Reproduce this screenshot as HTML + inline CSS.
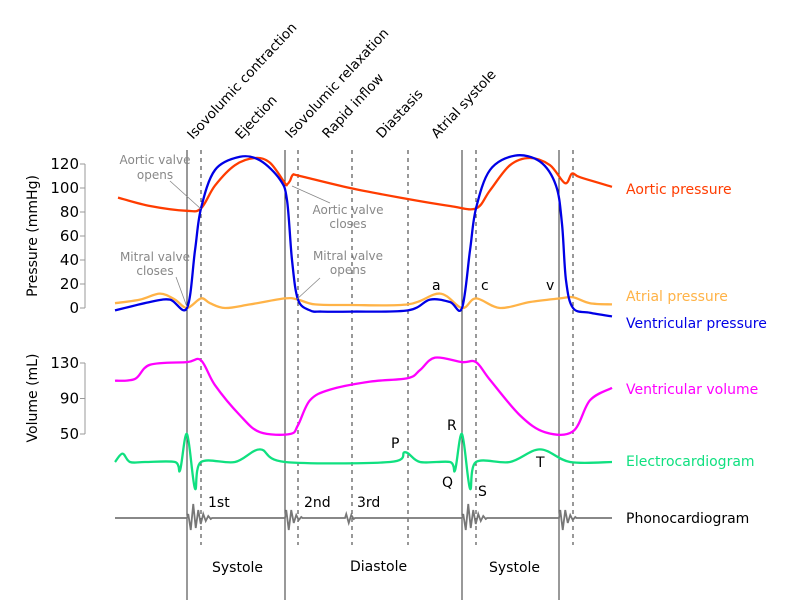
<!DOCTYPE html>
<html><head><meta charset="utf-8"><style>
body{margin:0;background:#fff}
svg{display:block;font-family:"DejaVu Sans","Liberation Sans",sans-serif}
</style></head><body>
<svg id="c" width="800" height="613" viewBox="0 0 800 613">
<g id="grid"></g>
<g id="axes"></g>
<g id="series"></g>
<g id="labels"></g>
</svg>
<script>
// time in ms-like units; x = 115 + t*0.5
const aorticT=[6,70,144,172,200,240,280,310,340,344,350,356,370,470,570,670,722,750,790,830,870,900,914,930,994];
const aorticV=[92,85,81,83,102,119,125,121,104,103,106,111,110,100,92,85,83,98,119,125,119,104,112,109,101];
const ventT=[0,70,110,144,160,172,200,250,290,330,344,354,366,390,414,474,586,630,670,694,710,722,750,800,850,882,894,902,916,950,994];
const ventV=[-2,5,7,0,48,83,115,126,123,107,90,40,7,-2,-3,-3,-2,7,5,0,48,83,115,127,122,102,70,23,0,-4,-7];
const atrT=[0,50,90,120,144,172,190,220,270,340,366,400,470,586,650,694,722,770,830,890,916,950,994];
const atrV=[4,7,12,7,0,8,4,0,3,8,7,3,2.5,3,12,0,8,0,5,8,9,4,3];
const volT=[0,40,70,144,172,200,250,290,350,366,390,430,510,586,610,640,694,722,750,810,860,916,950,994];
const volV=[110,112,128,131,133,105,71,52,50,60,88,100,109,113,122,136,131,131,111,71,52,53,88,102];
const ecgT=[0,15,30,60,120,130,144,160,172,240,290,340,550,580,610,670,680,694,710,722,790,850,910,994];
const ecgV=[0,.3,0,0,0,-.3,1,-.95,0,0,.45,0,0,.35,0,0,-.3,1,-.95,0,0,.45,0,0];
const phonoStart=[144,340,460,694,888];
const phonoAmp=[[4,12,14,10,8,6,4,3,2,1],[8,12,8,5,3,2,1],[4,5,3,1],[4,12,14,10,8,6,4,3,2,1],[8,12,8,5,3,2,1]];
const pTicks=[0,20,40,60,80,100,120];
const vTicks=[50,90,130];
const solidT=[144,340,694,888];
const dashT=[172,366,474,586,722,916];

const NS="http://www.w3.org/2000/svg";
const X=t=>115+t*0.5;
const YP=v=>308-v*1.2;
const YV=v=>434-(v-50)*0.8875;
const YE=v=>462-v*28;
function mk(tag,attrs,parent,txt){const e=document.createElementNS(NS,tag);for(const k in attrs)e.setAttribute(k,attrs[k]);if(txt!==undefined)e.textContent=txt;parent.appendChild(e);return e;}
function smooth(pts){let d=`M${pts[0][0]},${pts[0][1]}`;for(let i=0;i<pts.length-1;i++){const p0=pts[i-1]||pts[i],p1=pts[i],p2=pts[i+1],p3=pts[i+2]||p2;const k=1/6;d+=` C${p1[0]+(p2[0]-p0[0])*k},${p1[1]+(p2[1]-p0[1])*k} ${p2[0]-(p3[0]-p1[0])*k},${p2[1]-(p3[1]-p1[1])*k} ${p2[0]},${p2[1]}`;}return d;}
const grid=document.getElementById('grid'),axes=document.getElementById('axes'),ser=document.getElementById('series'),lab=document.getElementById('labels');

solidT.forEach(t=>{const l=mk('line',{x1:X(t),x2:X(t),y1:150,y2:600,stroke:'#333','stroke-width':1},grid);

});
dashT.forEach(t=>{const l=mk('line',{x1:X(t),x2:X(t),y1:150,y2:545,stroke:'#555','stroke-width':1.2,'stroke-dasharray':'4,4'},grid);

});

mk('line',{x1:85,x2:85,y1:YP(120),y2:YP(0),stroke:'#999'},axes);
pTicks.forEach(v=>{mk('line',{x1:80,x2:85,y1:YP(v),y2:YP(v),stroke:'#999'},axes);
const t=mk('text',{x:79,y:YP(v)+5,'text-anchor':'end','font-size':15,fill:'#000'},axes,String(v));

});
mk('line',{x1:85,x2:85,y1:YV(130),y2:YV(50),stroke:'#999'},axes);
vTicks.forEach(v=>{mk('line',{x1:80,x2:85,y1:YV(v),y2:YV(v),stroke:'#999'},axes);
const t=mk('text',{x:79,y:YV(v)+5,'text-anchor':'end','font-size':15,fill:'#000'},axes,String(v));

});
let yt=mk('text',{x:0,y:0,transform:'translate(37,236) rotate(-90)','text-anchor':'middle','font-size':14},axes,'Pressure (mmHg)');

yt=mk('text',{x:0,y:0,transform:'translate(37,398) rotate(-90)','text-anchor':'middle','font-size':14},axes,'Volume (mL)');


function line(T,V,Y,color,name){const pts=T.map((t,i)=>[X(t),Y(V[i])]);const p=mk('path',{d:smooth(pts),fill:'none',stroke:color,'stroke-width':2.3,'stroke-linejoin':'round'},ser);

}
line(atrT,atrV,YP,'#ffb347','atrial-pressure-line');
line(aorticT,aorticV,YP,'#ff3c00','aortic-pressure-line');
line(ventT,ventV,YP,'#0000e6','ventricular-pressure-line');
line(volT,volV,YV,'#ff00ff','ventricular-volume-line');
line(ecgT,ecgV,YE,'#10e080','ecg-line');

let d=`M${X(0)},518`;
phonoStart.forEach((s,b)=>{d+=` L${X(s)},518`;phonoAmp[b].forEach((a,i)=>{const x=X(s)+i*2.5+1.25;d+=` L${x},${518+(i%2?a:-a)}`;});d+=` L${X(s)+phonoAmp[b].length*2.5},518`;});
d+=` L${X(994)},518`;
const ph=mk('path',{d:d,fill:'none',stroke:'#777','stroke-width':1.8},ser);



function txt(x,y,s,o,name){const a=Object.assign({x:x,y:y,'font-size':14,fill:'#000'},o||{});const t=mk('text',a,lab,s);

return t;}
txt(626,194,'Aortic pressure',{fill:'#ff3c00'},'legend-aortic-pressure');
txt(626,301,'Atrial pressure',{fill:'#ffb347'},'legend-atrial-pressure');
txt(626,328,'Ventricular pressure',{fill:'#0000e6'},'legend-ventricular-pressure');
txt(626,394,'Ventricular volume',{fill:'#ff00ff'},'legend-ventricular-volume');
txt(626,466,'Electrocardiogram',{fill:'#10e080'},'legend-electrocardiogram');
txt(626,523,'Phonocardiogram',{},'legend-phonocardiogram');
const g={fill:'#888','font-size':12,'text-anchor':'middle'};
txt(155,164,'Aortic valve',g,'aortic-valve-opens-note');txt(155,179,'opens',g,'aortic-valve-opens-note');
txt(155,261,'Mitral valve',g,'mitral-valve-closes-note');txt(155,275,'closes',g,'mitral-valve-closes-note');
txt(348,214,'Aortic valve',g,'aortic-valve-closes-note');txt(348,228,'closes',g,'aortic-valve-closes-note');
txt(348,260,'Mitral valve',g,'mitral-valve-opens-note');txt(348,274,'opens',g,'mitral-valve-opens-note');
[[170,181,201,209],[176,277,187,307],[330,203,292,186],[320,278,296,300]].forEach(c=>{const l=mk('line',{x1:c[0],y1:c[1],x2:c[2],y2:c[3],stroke:'#888','stroke-width':0.8},lab);

});
[['a',432,290],['c',481,290],['v',546,290],['P',391,448],['R',447,430],['Q',442,487],['S',478,496],['T',536,467],['1st',208,507],['2nd',304,507],['3rd',357,507],['Systole',212,572],['Diastole',350,571],['Systole',489,572]].forEach(a=>txt(a[1],a[2],a[0],{},'annotation-'+a[0].toLowerCase()));
[['Isovolumic contraction',193,140],['Ejection',241,140],['Isovolumic relaxation',291,139],['Rapid inflow',328,139],['Diastasis',382,139],['Atrial systole',437,139]].forEach(a=>txt(0,0,a[0],{transform:`translate(${a[1]},${a[2]}) rotate(-47)`,'font-size':13.5},'phase-label'));
</script>
</body></html>
